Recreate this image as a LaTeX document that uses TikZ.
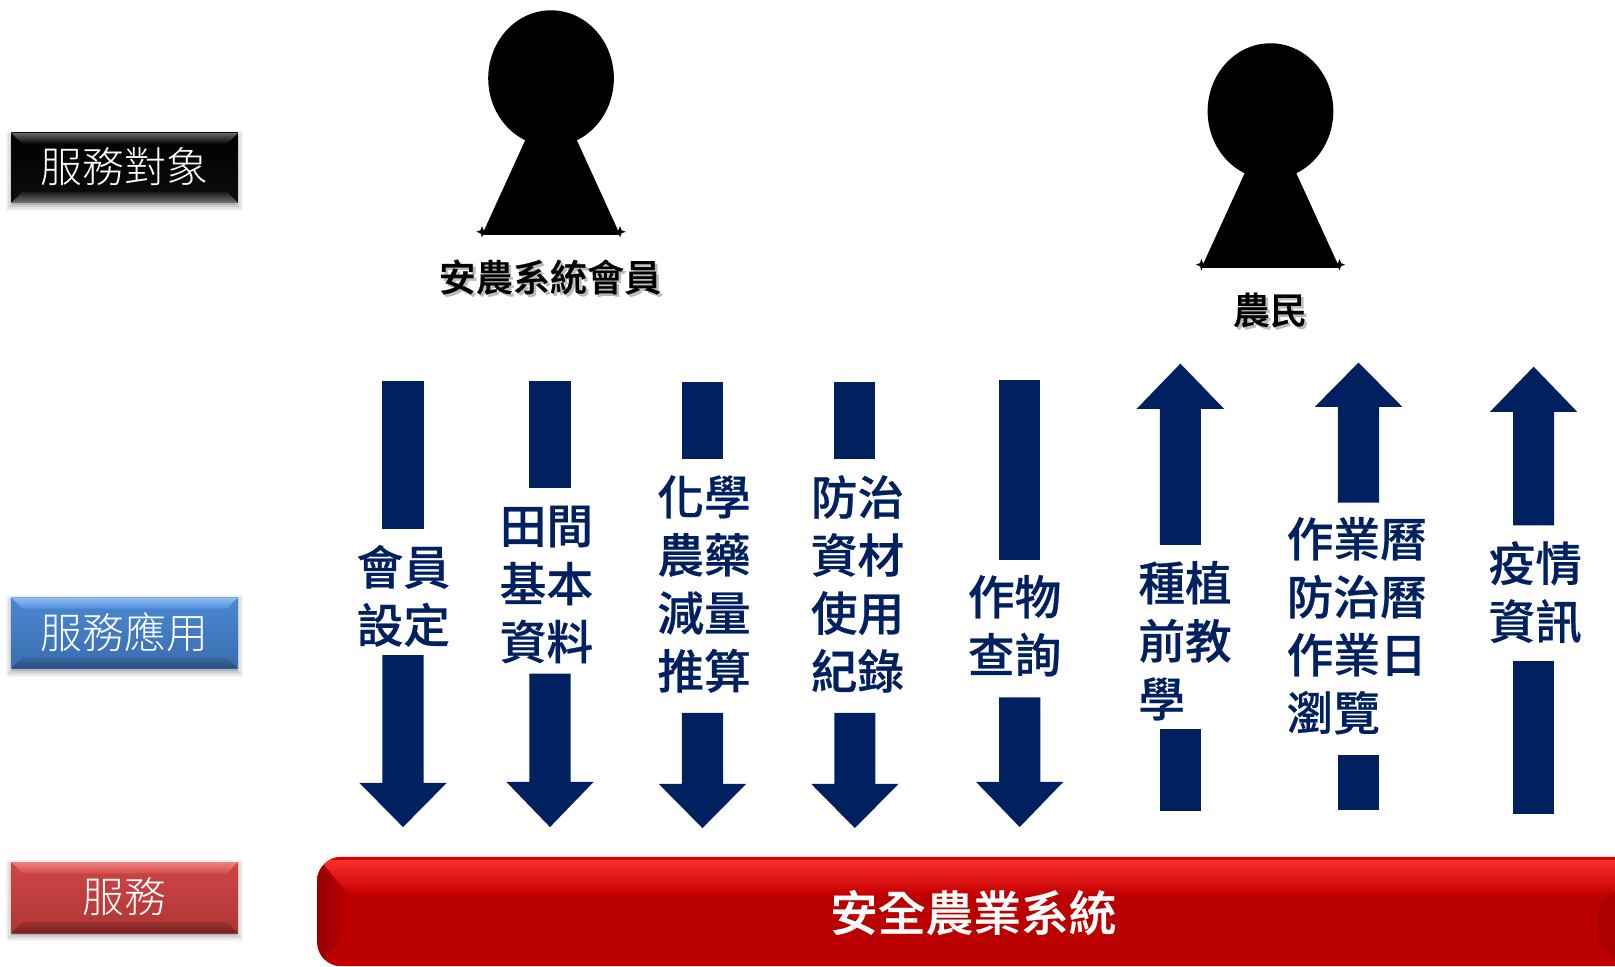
\documentclass[tikz,border=0pt]{standalone}
\usepackage{fontspec}
\setmainfont{Noto Sans CJK TC}
\newfontfamily\cjklight{Noto Sans CJK TC Light}
\newfontfamily\cjkmed[FakeBold=0.5]{Noto Sans CJK TC Medium}
\definecolor{navy}{HTML}{002060}
\definecolor{barred}{HTML}{BB0000}
\definecolor{bA}{HTML}{8FBFF2}
\definecolor{bB}{HTML}{4F90DE}
\definecolor{bC}{HTML}{4A88D2}
\definecolor{bD}{HTML}{3A6DAE}
\definecolor{bE}{HTML}{3A6BA8}
\definecolor{bF}{HTML}{244A7C}
\definecolor{rA}{HTML}{F08080}
\definecolor{rB}{HTML}{D44C4C}
\definecolor{rC}{HTML}{D04545}
\definecolor{rD}{HTML}{AE3636}
\definecolor{rE}{HTML}{A23232}
\definecolor{rF}{HTML}{6E2222}
\tikzset{
  arrowfill/.style={fill=navy,draw=none},
  armtext/.style={text=navy,font=\fontsize{35}{43.5}\selectfont\cjkmed,align=left,inner sep=0pt,anchor=west},
  sidetext/.style={text=white,font=\fontsize{31.4}{36}\selectfont\cjklight,inner sep=0pt},
  persontext/.style={font=\fontsize{27.8}{32}\selectfont\cjkmed,inner sep=0pt},
  person/.style={fill=black,draw=none},
}
\newcommand{\downarrowblock}[6]{%
  \fill[arrowfill] (#1-20,#2) rectangle (#1+20,#3);
  \fill[arrowfill] (#1-20,#4) -- (#1+20,#4) -- (#1+20,#5) -- (#1+42.5,#5) -- (#1,#6) -- (#1-42.5,#5) -- (#1-20,#5) -- cycle;
}
\newcommand{\uparrowblock}[6]{%
  \fill[arrowfill] (#1-20,#2) rectangle (#1+20,#3);
  \fill[arrowfill] (#1-20,#4) -- (#1+20,#4) -- (#1+20,#5) -- (#1+42.5,#5) -- (#1,#6) -- (#1-42.5,#5) -- (#1-20,#5) -- cycle;
}
% name, y0, y1, top bevel top, top bevel bottom, face top, face bottom, bottom bevel top, bottom bevel bottom
\newcommand{\bevelbox}[9]{%
  \foreach \s/\o in {8/.05,6/.07,4/.09,2/.12}{\fill[black,opacity=\o] (11-\s+3,#2-\s+6) rectangle (231+\s-3,#3+\s);}
  \shade[top color=#6,bottom color=#7] (11,#2) rectangle (231,#3);
  \shade[top color=#4,bottom color=#5] (11,#2) -- (231,#2) -- (220,#2+11) -- (22,#2+11) -- cycle;
  \shade[top color=#8,bottom color=#9] (11,#3) -- (231,#3) -- (220,#3-11) -- (22,#3-11) -- cycle;
  \node[sidetext] (#1) at (121,{(#2+#3)/2-1}) {\sidelabel};
}
\newcommand{\keyperson}[2]{%
  \fill[person] (#1,#2) ellipse [x radius=61,y radius=66];
  \fill[person] (#1-25,#2+60) -- (#1+25,#2+60) -- (#1+67,#2+152) -- (#1-67,#2+152) -- cycle;
  \foreach \d in {-1,1}{\fill[black] (#1+\d*67,#2+149) +(-5.5,0) -- +(-1.5,-1.5) -- +(0,-5.5) -- +(1.5,-1.5) -- +(5.5,0) -- +(1.5,1.5) -- +(0,5.5) -- +(-1.5,1.5) -- cycle;}
}
\begin{document}
\begin{tikzpicture}[x=0.7725pt,y=-0.7725pt]
\useasboundingbox (0,0) rectangle (1568,937.9);
\keyperson{535}{76}
\keyperson{1233.5}{108}
\node[persontext,text=black!35,opacity=.75] at (536.5,271.5) {安農系統會員};
\node[persontext] (member) at (534,269) {安農系統會員};
\node[persontext,text=black!35,opacity=.75] at (1235.5,303.5) {農民};
\node[persontext] (farmer) at (1233,301) {農民};
\def\sidelabel{服務對象}
\bevelbox{target}{129}{197}{black!60}{black}{black}{black!95}{black!90}{black!55}
\def\sidelabel{服務應用}
\bevelbox{apply}{580}{649}{bA}{bB}{bC}{bD}{bE}{bF}
\def\sidelabel{服務}
\bevelbox{service}{837}{906}{rA}{rB}{rC}{rD}{rE}{rF}
\begin{scope}
\clip[rounded corners=18] (308,832) rectangle (1640,938);
\fill[barred] (308,832) rectangle (1640,938);
\shade[top color=red!80!white,bottom color=barred!85!red] (308,832) rectangle (1640,868);
\fill[red!85!black] (308,832) rectangle (1640,835);
\shade[top color=barred,bottom color=red!80!black] (308,930) rectangle (1640,938);
\shade[left color=barred!80!black,right color=barred] (308,832) -- (337,867) -- (337,905) -- (308,938) -- cycle;
\fill[barred!92!black] (1568,866) -- (1551,882) -- (1551,915) -- (1568,930) -- cycle;
\end{scope}
\node[text=white,font=\fontsize{35.8}{40}\selectfont\cjkmed,inner sep=0pt] (sys) at (945,886) {安全農業系統};
\downarrowblock{391.3}{370}{514}{636}{760}{803}
\downarrowblock{534}{370}{474}{654}{759}{803}
\downarrowblock{682}{371}{446}{692}{761}{804}
\downarrowblock{830}{371}{446}{692}{761}{804}
\downarrowblock{990}{369}{544}{677}{759}{803}
\uparrowblock{1146}{787}{708}{529}{397}{353}
\uparrowblock{1319}{786}{733}{488}{395}{352}
\uparrowblock{1489}{790}{642}{510}{400}{356}
\node[armtext] (a1) at (346,578.5) {會員\\設定};
\node[armtext] (a2) at (485,567.5) {田間\\基本\\資料};
\node[armtext] (a3) at (638,567) {化學\\農藥\\減量\\推算};
\node[armtext] (a4) at (787,567) {防治\\資材\\使用\\紀錄};
\node[armtext] (a5) at (939.5,607.5) {作物\\查詢};
\node[armtext] (a6) at (1105,622) {種植\\前教\\學};
\node[armtext] (a7) at (1249,607.5) {作業曆\\防治曆\\作業日\\瀏覽};
\node[armtext] (a8) at (1445,575) {疫情\\資訊};
\end{tikzpicture}
\end{document}
